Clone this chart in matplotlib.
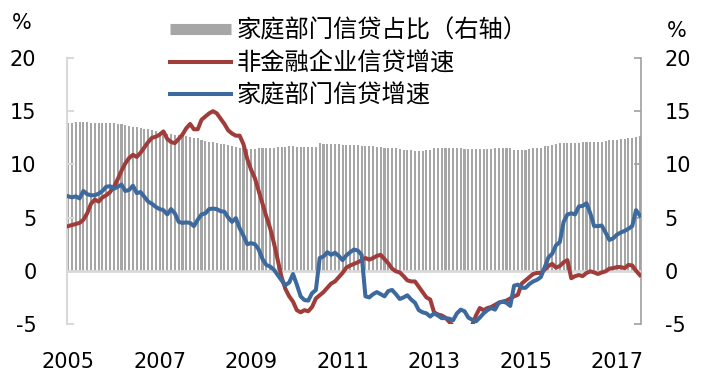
import numpy as np
import matplotlib
matplotlib.use("Agg")
import matplotlib.pyplot as plt
from matplotlib.lines import Line2D

plt.rcParams['font.family'] = ['DejaVu Sans', 'Noto Sans CJK SC']
plt.rcParams['axes.unicode_minus'] = False

# monthly data, Jan 2005 - Jul 2017
years = ['2005', '2007', '2009', '2011', '2013', '2015', '2017']

# household credit share (right axis), %
hh_share = [
    13.9, 13.9, 13.95, 13.95, 13.95, 13.95, 13.9, 13.9, 13.9, 13.9,
    13.9, 13.85, 13.85, 13.8, 13.75, 13.7, 13.6, 13.55, 13.5, 13.45,
    13.35, 13.3, 13.2, 13.1, 13.0, 12.95, 12.9, 12.85, 12.8, 12.75,
    12.7, 12.65, 12.6, 12.5, 12.45,
    12.3, 12.2, 12.15, 12.1, 12.0, 11.95, 11.9, 11.8, 11.7, 11.6,
    11.5, 11.5, 11.45, 11.45, 11.45, 11.5, 11.5, 11.5, 11.5, 11.55,
    11.6, 11.6, 11.65, 11.7, 11.7, 11.65, 11.65, 11.6, 11.6, 11.6,
    11.6, 12.0, 11.95, 11.95, 11.9, 11.9, 11.9, 11.85, 11.85, 11.85,
    11.8, 11.8, 11.75, 11.75, 11.7, 11.7, 11.6, 11.6, 11.55, 11.5,
    11.5, 11.5, 11.45, 11.4, 11.4, 11.35, 11.3, 11.3, 11.3, 11.35,
    11.35, 11.5, 11.5, 11.5, 11.5, 11.5, 11.5, 11.5,
    11.5, 11.45, 11.45, 11.45, 11.45, 11.45, 11.45,
    11.45, 11.45, 11.5, 11.5, 11.5, 11.5, 11.5, 11.4,
    11.35, 11.4, 11.4, 11.45, 11.5, 11.5, 11.55, 11.7, 11.75, 11.85,
    11.9, 12.0, 12.0, 12.0, 12.05, 12.05, 12.05, 12.1, 12.1, 12.1,
    12.15, 12.15, 12.15, 12.2, 12.25, 12.3, 12.3, 12.35, 12.4, 12.45,
    12.5, 12.6, 12.7]

# non-financial corporate credit growth, %
corp_growth = [
    4.2, 4.3, 4.4, 4.5, 4.8, 5.4, 6.3, 6.7, 6.5, 6.9,
    7.1, 7.4, 7.9, 8.6, 9.4, 10.1, 10.6, 10.9, 10.7, 11.1,
    11.6, 12.1, 12.5, 12.6, 12.8, 13.1, 12.4, 12.1, 12.0, 12.4,
    12.8, 13.4, 13.8, 13.3, 13.3,
    14.2, 14.5, 14.8, 15.0, 14.8, 14.3, 13.8, 13.2, 12.9, 12.7,
    12.7, 11.9, 10.5, 9.5, 8.7, 7.5, 6.3, 5.1, 4.0, 2.6,
    1.0, -0.6, -1.7, -2.4, -2.9, -3.7, -3.9, -3.7, -3.8, -3.4,
    -2.6, -2.3, -2.0, -1.6, -1.2, -1.0, -0.6, -0.2, 0.3, 0.5,
    0.65, 0.8, 1.0, 1.2, 1.05, 1.2, 1.4, 1.5, 1.1, 0.7,
    0.2, -0.05, -0.15, -0.5, -0.9, -1.0, -1.0, -1.5, -2.0, -2.5,
    -2.7, -3.9, -4.1, -4.2, -4.4, -4.8, -5.2, -5.6,
    -6.0, -5.8, -5.6, -5.1, -4.2, -3.5, -3.7,
    -3.5, -3.4, -3.2, -3.0, -2.9, -2.8, -2.6, -2.4,
    -2.25, -1.2, -0.9, -0.6, -0.3, -0.2, -0.2, 0.1, 0.45, 0.65,
    0.3, 0.45, 0.8, 1.0, -0.7, -0.5, -0.4, -0.5, -0.2, -0.05,
    -0.15, -0.3, -0.15, -0.05, 0.2, 0.25, 0.35, 0.35, 0.25, 0.55,
    0.5, 0.0, -0.4]

# household credit growth, %
hh_growth = [
    7.0, 6.9, 7.0, 6.8, 7.5, 7.2, 7.1, 7.1, 7.25, 7.5,
    7.9, 7.95, 7.7, 7.9, 8.1, 7.5, 7.6, 8.0, 7.3, 7.4,
    6.95, 6.5, 6.3, 6.0, 5.8, 5.7, 5.3, 5.8, 5.4, 4.6,
    4.5, 4.55, 4.5, 4.2, 4.8,
    5.3, 5.4, 5.8, 5.85, 5.8, 5.6, 5.55, 5.0, 4.6, 4.95,
    4.0, 3.3, 2.5, 2.6, 2.5, 2.0, 1.1, 0.55, 0.4, 0.1,
    -0.4, -0.9, -1.35, -1.1, -0.3, -1.3, -2.4, -2.75, -2.8, -2.1,
    -1.8, 1.2, 1.35, 1.75, 1.5, 1.7, 1.4, 1.0, 1.45, 1.75,
    2.0, 1.9, 1.5, -2.4, -2.5, -2.2, -2.0, -2.2, -2.4, -1.9,
    -1.8, -2.2, -2.65, -2.5, -2.3, -2.7, -3.0, -3.7, -3.9, -4.0,
    -4.3, -4.0, -4.2, -4.45, -4.45, -4.5, -4.65, -4.0,
    -3.65, -3.8, -4.4, -4.6, -4.75, -4.4, -4.0,
    -3.7, -3.5, -3.65, -3.0, -2.9, -3.0, -3.3, -1.4,
    -1.3, -1.6, -1.6, -1.25, -1.0, -0.85, -0.6, 0.3, 1.25, 1.6,
    2.4, 2.7, 4.6, 5.3, 5.4, 5.3, 6.05, 6.1, 6.35, 5.4,
    4.2, 4.2, 4.25, 3.6, 2.9, 3.05, 3.4, 3.6, 3.75, 3.95,
    4.2, 5.7, 5.2]

x = np.arange(len(hh_share))
red = '#a03c3a'
blue = '#3d6a9e'
grey = '#a6a6a6'

fig = plt.figure(figsize=(7.06, 3.8), dpi=100)
ax = fig.add_axes([67/706, 1 - 324/380, (641 - 67)/706, (324 - 58)/380])
ax2 = ax.twinx()

# bars on the right axis, lines on the left axis drawn above them
ax2.bar(x, hh_share, width=0.55, color=grey, linewidth=0)
ax.set_zorder(ax2.get_zorder() + 1)
ax.patch.set_visible(False)

ax.axhline(0, color='#d9d9d9', lw=2, zorder=1)
ax.plot(x, corp_growth, color=red, lw=2.9, zorder=3)
ax.plot(x, hh_growth, color=blue, lw=2.9, zorder=4)

for a in (ax, ax2):
    a.set_ylim(-5, 20)
    a.set_yticks([-5, 0, 5, 10, 15, 20])
    a.set_xlim(-0.3, len(x) - 0.7)
    for s in ('top', 'bottom'):
        a.spines[s].set_visible(False)

ax.spines['right'].set_visible(False)
ax.spines['left'].set_color('#d9d9d9')
ax.spines['left'].set_linewidth(1.5)
ax.tick_params(axis='y', direction='in', length=5, width=1.5, color='#d9d9d9',
               labelsize=15, pad=22)
ax2.spines['left'].set_visible(False)
ax2.spines['right'].set_color('#a0a0a0')
ax2.spines['right'].set_linewidth(1.2)
ax2.tick_params(axis='y', direction='in', length=5, width=1.2, color='#a0a0a0',
                labelsize=15, pad=17)

ax.set_xticks(np.arange(0, len(x), 24))
ax.set_xticklabels(years)
ax.tick_params(axis='x', length=0, labelsize=15, pad=20)
ax2.tick_params(axis='x', length=0, labelbottom=False)

fig.text(22/706, 1 - 23/380, '%', fontsize=15, ha='center', va='center')
fig.text(677/706, 1 - 31/380, '%', fontsize=15, ha='center', va='center')

handles = [Line2D([], [], color=grey, lw=8, solid_capstyle='butt'),
           Line2D([], [], color=red, lw=2.9),
           Line2D([], [], color=blue, lw=2.9)]
labels = ['家庭部门信贷占比（右轴）', '非金融企业信贷增速', '家庭部门信贷增速']
fig.legend(handles, labels, loc='upper left', bbox_to_anchor=(170/706, 1 - 19/380),
           frameon=False, fontsize=17.5, handlelength=2.5, handletextpad=0.25,
           labelspacing=0.33, borderpad=0, borderaxespad=0)

fig.savefig('out.png', dpi=100)
